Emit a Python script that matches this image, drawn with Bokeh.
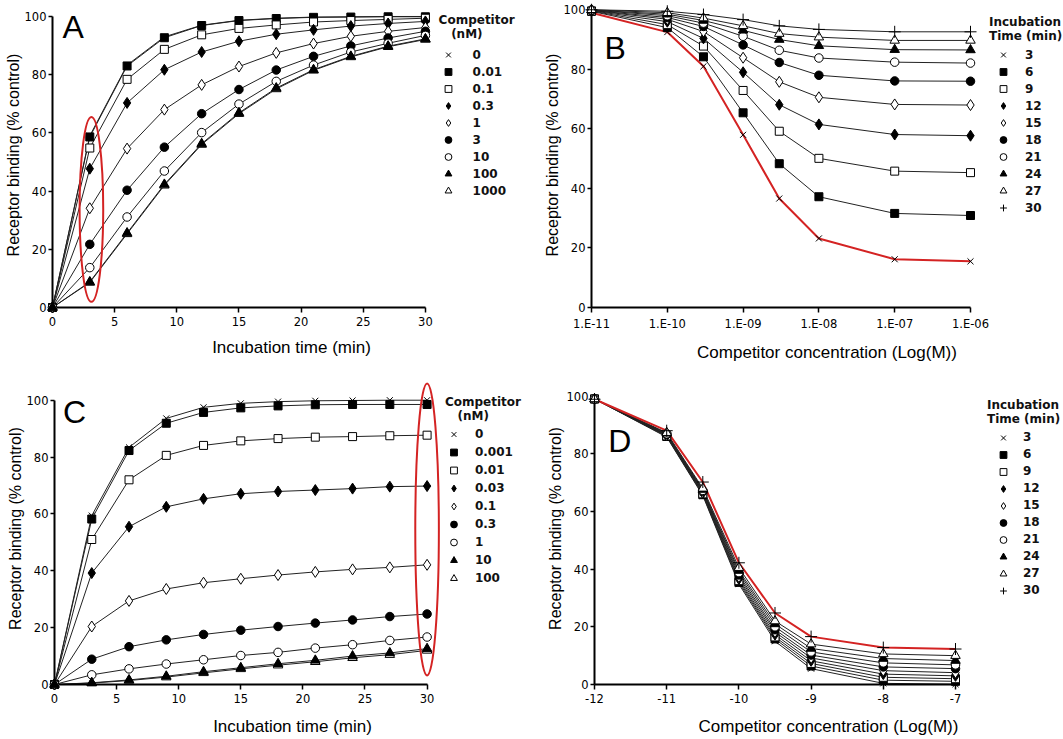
import math
from bokeh.plotting import figure
from bokeh.layouts import row, column
from bokeh.models import (Legend, LegendItem, Label, FixedTicker,
                          CustomJSTickFormatter, Range1d)
from bokeh.embed import file_html
from bokeh.resources import INLINE

# ---------------- data ----------------
TIMES = [0, 3, 6, 9, 12, 15, 18, 21, 24, 27, 30]

# Panel A: association kinetics, competitor (nM)
A_LABELS = ["0", "0.01", "0.1", "0.3", "1", "3", "10", "100", "1000"]
A_C0 = [0, 59.0, 83.3, 93.0, 97.0, 98.7, 99.4, 99.8, 99.9, 100, 100]
A_C0_01 = [0, 58.6, 83.0, 92.7, 96.9, 98.6, 99.3, 99.7, 99.8, 99.9, 99.9]
A_C0_1 = [0, 54.8, 78.4, 88.7, 93.7, 95.9, 97.1, 98.1, 98.6, 99.0, 99.4]
A_C0_3 = [0, 47.7, 70.3, 81.7, 87.8, 91.5, 93.9, 95.4, 96.7, 97.6, 98.3]
A_C1 = [0, 34.1, 54.6, 68.0, 76.5, 82.8, 87.5, 90.7, 93.2, 94.9, 96.2]
A_C3 = [0, 21.7, 40.3, 55.1, 66.6, 74.9, 81.6, 86.3, 89.9, 92.6, 94.9]
A_C10 = [0, 13.7, 31.1, 46.9, 60.1, 69.9, 77.7, 83.3, 87.8, 90.8, 93.5]
A_C100 = [0, 8.8, 25.6, 42.3, 56.3, 66.9, 75.4, 81.7, 86.3, 89.8, 92.3]
A_C1000 = [0, 8.6, 25.3, 42.0, 56.0, 66.6, 75.1, 81.5, 86.1, 89.6, 92.1]
A_SERIES = [A_C0, A_C0_01, A_C0_1, A_C0_3, A_C1, A_C3, A_C10, A_C100, A_C1000]

# Panel C: association kinetics, competitor (nM)
C_LABELS = ["0", "0.001", "0.01", "0.03", "0.1", "0.3", "1", "10", "100"]
C_C0 = [0, 59.4, 83.4, 93.6, 97.5, 98.9, 99.5, 99.8, 99.9, 100, 100]
C_C0_001 = [0, 58.2, 82.3, 91.9, 95.7, 97.3, 98.0, 98.4, 98.5, 98.5, 98.5]
C_C0_01 = [0, 51.0, 72.0, 80.6, 84.1, 85.7, 86.5, 87.0, 87.2, 87.5, 87.7]
C_C0_03 = [0, 39.2, 55.5, 62.5, 65.3, 67.1, 67.9, 68.4, 68.9, 69.6, 69.8]
C_C0_1 = [0, 20.4, 29.4, 33.6, 35.8, 37.2, 38.5, 39.6, 40.5, 41.2, 42.1]
C_C0_3 = [0, 8.9, 13.3, 15.7, 17.6, 19.1, 20.4, 21.6, 22.7, 23.9, 24.8]
C_C1 = [0, 3.4, 5.5, 7.2, 8.7, 10.2, 11.3, 12.8, 14.0, 15.5, 16.7]
C_C10 = [0, 0.6, 1.6, 2.9, 4.5, 5.9, 7.3, 8.5, 10.0, 11.1, 12.6]
C_C100 = [0, 0.5, 1.4, 2.6, 4.1, 5.5, 6.8, 8.0, 9.4, 10.5, 12.0]
C_SERIES = [C_C0, C_C0_001, C_C0_01, C_C0_03, C_C0_1, C_C0_3, C_C1, C_C10, C_C100]

# Panel B: competition curves, concentration (M), incubation time (min)
B_CONC = [1e-11, 1e-10, 3e-10, 1e-9, 3e-9, 1e-8, 1e-7, 1e-6]
B_TICKS = [1e-11, 1e-10, 1e-9, 1e-8, 1e-7, 1e-6]
B_LABELS = ["3", "6", "9", "12", "15", "18", "21", "24", "27", "30"]
B_T3 = [99.0, 92.5, 81.0, 58.0, 36.6, 23.2, 16.2, 15.5]
B_T6 = [99.5, 94.0, 84.2, 65.4, 48.3, 37.2, 31.6, 30.9]
B_T9 = [99.6, 95.0, 87.8, 72.9, 59.2, 50.1, 45.8, 45.3]
B_T12 = [99.7, 96.0, 90.4, 79.0, 68.1, 61.5, 58.1, 57.7]
B_T15 = [99.8, 96.8, 92.7, 83.9, 75.8, 70.6, 68.2, 68.0]
B_T18 = [99.8, 97.4, 94.4, 88.2, 82.3, 78.0, 76.1, 76.0]
B_T21 = [99.9, 98.0, 95.5, 91.1, 86.4, 83.8, 82.4, 82.1]
B_T24 = [99.9, 98.5, 96.4, 93.1, 90.0, 87.9, 86.6, 86.5]
B_T27 = [100, 99.0, 97.2, 94.6, 92.0, 90.8, 89.7, 89.7]
B_T30 = [100, 99.5, 98.4, 96.7, 94.6, 93.4, 92.6, 92.6]
B_SERIES = [B_T3, B_T6, B_T9, B_T12, B_T15, B_T18, B_T21, B_T24, B_T27, B_T30]

# Panel D: competition curves, log concentration, incubation time (min)
D_LOGCONC = [-12, -11, -10.5, -10, -9.5, -9, -8, -7]
D_TICKS = [-12, -11, -10, -9, -8, -7]
D_LABELS = ["3", "6", "9", "12", "15", "18", "21", "24", "27", "30"]
D_T3 = [99.0, 85.8, 65.5, 34.8, 15.0, 5.5, 0.4, 0.1]
D_T6 = [99.0, 86.0, 65.8, 35.4, 15.8, 6.4, 1.5, 1.1]
D_T9 = [99.0, 86.2, 66.1, 36.0, 16.5, 7.3, 2.5, 2.0]
D_T12 = [99.0, 86.4, 66.4, 36.6, 17.3, 8.2, 3.6, 3.0]
D_T15 = [99.0, 86.5, 66.7, 37.3, 18.2, 9.2, 4.8, 4.1]
D_T18 = [99.0, 86.7, 67.0, 38.0, 19.0, 10.2, 6.1, 5.5]
D_T21 = [99.0, 86.9, 67.3, 38.8, 20.0, 11.3, 7.5, 6.8]
D_T24 = [99.0, 87.1, 67.6, 39.5, 21.0, 12.5, 9.0, 8.3]
D_T27 = [99.0, 87.3, 68.0, 40.5, 22.0, 14.0, 10.6, 10.0]
D_T30 = [98.9, 88.0, 70.2, 42.2, 24.8, 16.6, 12.8, 12.3]
D_SERIES = [D_T3, D_T6, D_T9, D_T12, D_T15, D_T18, D_T21, D_T24, D_T27, D_T30]

# ---------------- styles ----------------
MARKERS = [("x", "black", 8.5), ("square", "black", 8), ("square", "white", 8),
           ("diamond", "black", 11), ("diamond", "white", 11),
           ("circle", "black", 8.5), ("circle", "white", 8.5),
           ("triangle", "black", 9.5), ("triangle", "white", 9.5),
           ("cross", "black", 12)]
RED = "#d42323"
LINE = "#222222"
TICK_FONT = "DejaVu Sans"
LABEL_FONT = "Liberation Sans"
LEG_FONT = "DejaVu Sans"


def make_fig(width, height, left, axis_right, bottom, axis_top, top,
             x0, x1, log=False, xlab_standoff=9):
    """Frame spans [left, width] x [top, bottom] (local px); the axes span
    x0..x1 between px left..axis_right and 0..100 between bottom..axis_top."""
    frac = (width - left) / (axis_right - left)
    if log:
        lx0, lx1 = math.log10(x0), math.log10(x1)
        x_end = 10 ** (lx0 + (lx1 - lx0) * frac)
    else:
        x_end = x0 + (x1 - x0) * frac
    y_end = 100 * (bottom - top) / (bottom - axis_top)
    p = figure(width=width, height=height, x_range=Range1d(x0, x_end),
               y_range=Range1d(0, y_end),
               x_axis_type="log" if log else "linear", output_backend="svg",
               toolbar_location=None, min_border_left=int(round(left)),
               min_border_right=0, min_border_top=int(round(top)),
               min_border_bottom=int(round(height - bottom)))
    p.grid.visible = False
    p.outline_line_color = None
    for ax in (p.xaxis[0], p.yaxis[0]):
        ax.axis_line_width = 2
        ax.axis_line_color = "black"
        ax.major_tick_in = 0
        ax.major_tick_line_width = 1.5
        ax.major_tick_line_color = "black"
        ax.minor_tick_line_color = None
        ax.major_label_text_font = TICK_FONT
        ax.major_label_text_font_size = "11.5px"
        ax.major_label_text_color = "black"
        ax.axis_label_text_font = LABEL_FONT
        ax.axis_label_text_font_style = "normal"
        ax.axis_label_text_color = "black"
    p.xaxis.bounds = (x0, x1)
    p.yaxis.bounds = (0, 100)
    p.xaxis.major_tick_out = 5
    p.xaxis.major_label_standoff = 4
    p.xaxis.axis_label_standoff = xlab_standoff
    p.xaxis.axis_label_text_font_size = "17px"
    p.yaxis.major_tick_out = 4
    p.yaxis.major_label_standoff = 2
    p.yaxis.axis_label_standoff = 0
    p.yaxis.axis_label_text_font_size = "16px"
    p.yaxis.ticker = FixedTicker(ticks=[0, 20, 40, 60, 80, 100])
    p.yaxis.axis_label = "Receptor binding (% control)"
    return p


def draw_series(p, xs, series, order, red_index=None):
    renderers = {}
    for i in order:
        col = RED if i == red_index else LINE
        lw = 2 if i == red_index else 1
        p.line(xs, series[i], line_color=col, line_width=lw)
    for i in order:
        mk, fill, size = MARKERS[i]
        r = p.scatter(xs, series[i], marker=mk, size=size, fill_color=fill,
                      line_color="black", line_width=1, level="overlay")
        renderers[i] = r
    return [renderers[i] for i in range(len(series))]


def add_legend(p, renderers, labels, title, x, y, glyph_w, glyph_h, standoff,
               title_standoff):
    items = [LegendItem(label=l, renderers=[r]) for l, r in zip(labels, renderers)]
    leg = Legend(items=items, title=title, location=(x, y))
    leg.title_text_font = LEG_FONT
    leg.title_text_font_size = "12px"
    leg.title_text_font_style = "bold"
    leg.title_text_color = "#111111"
    leg.title_standoff = title_standoff
    leg.label_text_font = LEG_FONT
    leg.label_text_font_size = "12px"
    leg.label_text_font_style = "bold"
    leg.label_text_color = "#111111"
    leg.glyph_width = glyph_w
    leg.glyph_height = glyph_h
    leg.label_height = 14
    leg.spacing = 0
    leg.label_standoff = standoff
    leg.padding = 0
    leg.margin = 0
    leg.border_line_color = None
    leg.background_fill_alpha = 0
    p.add_layout(leg)


def panel_letter(p, text, x, y):
    p.add_layout(Label(x=x, y=y, text=text, text_font=LABEL_FONT,
                       text_font_size="32px", text_baseline="alphabetic",
                       text_color="black"))


# ---------------- Panel A ----------------
pA = make_fig(530, 370, 52.4, 425, 307.3, 16, 2, 0, 30)
pA.xaxis.ticker = FixedTicker(ticks=[0, 5, 10, 15, 20, 25, 30])
pA.xaxis.axis_label = "Incubation time (min)"
order_A = [0, 1, 2, 3, 4, 5, 6, 8, 7]
rA = draw_series(pA, TIMES, A_SERIES, order_A)
pA.ellipse(x=TIMES[1] + 0.13, y=33.7, width=1.9, height=63.5, fill_color=None,
           line_color=RED, line_width=2, level="overlay")
panel_letter(pA, "A", 0.81, 96.5)
add_legend(pA, rA, A_LABELS, "Competitor\n\u00a0\u00a0\u00a0(nM)",
           439 - 52.4, 307.3 - 17 - 182.5, 18, 17, 16, 5)

# ---------------- Panel B ----------------
pB = make_fig(532, 370, 61, 440, 308.3, 9.3, 2, 1e-11, 1e-6, log=True)
pB.xaxis.ticker = FixedTicker(ticks=B_TICKS)
pB.xaxis.formatter = CustomJSTickFormatter(
    code="const e = Math.round(Math.log10(tick)); return '1.E-' + String(-e).padStart(2, '0');")
pB.xaxis.axis_label = "Competitor concentration (Log(M))"
rB = draw_series(pB, B_CONC, B_SERIES, list(range(10)), red_index=0)
panel_letter(pB, "B", 10 ** -10.83, 87.1)
add_legend(pB, rB, B_LABELS, "Incubation\nTime (min)",
           989 - 591, 308.3 - 20 - 197.5, 28, 17, 8, 3)

# ---------------- Panel C ----------------
pC = make_fig(530, 368, 54.1, 426.6, 317.3, 30, 2, 0, 30, xlab_standoff=11)
pC.xaxis.ticker = FixedTicker(ticks=[0, 5, 10, 15, 20, 25, 30])
pC.xaxis.axis_label = "Incubation time (min)"
rC = draw_series(pC, TIMES, C_SERIES, order_A)
pC.ellipse(x=TIMES[-1], y=54.5, width=1.9, height=102.7, fill_color=None,
           line_color=RED, line_width=2, level="overlay")
panel_letter(pC, "C", 0.68, 96.0)
add_legend(pC, rC, C_LABELS, "Competitor\n\u00a0\u00a0\u00a0(nM)",
           445 - 54.1, 317.3 - 31.8 - 188.5, 17, 18, 13, 2)

# ---------------- Panel D ----------------
pD = make_fig(532, 368, 64, 425, 319.5, 26, 2, -12, -7, xlab_standoff=11)
pD.xaxis.ticker = FixedTicker(ticks=D_TICKS)
pD.xaxis.formatter = CustomJSTickFormatter(code="return String(tick);")
pD.xaxis.axis_label = "Competitor concentration (Log(M))"
rD = draw_series(pD, D_LOGCONC, D_SERIES, list(range(10)), red_index=9)
panel_letter(pD, "D", -11.81, 84.4)
add_legend(pD, rD, D_LABELS, "Incubation\nTime (min)",
           987 - 594, 319.5 - 36.8 - 197.5, 32, 17, 4, 3)

layout = column(row(pA, pB), row(pC, pD))
open("out.html", "w").write(file_html(layout, INLINE, title="Receptor binding"))
